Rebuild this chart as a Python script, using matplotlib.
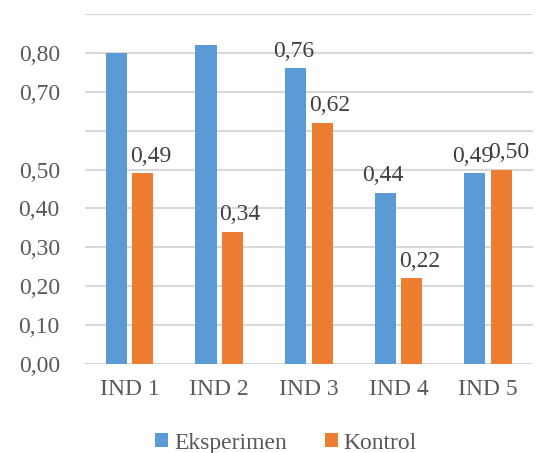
import matplotlib.pyplot as plt
import numpy as np

categories = ['IND 1', 'IND 2', 'IND 3', 'IND 4', 'IND 5']
eksperimen = [0.80, 0.82, 0.76, 0.44, 0.49]
kontrol = [0.49, 0.34, 0.62, 0.22, 0.50]
eksperimen_labels = ['', '', '0,76', '0,44', '0,49']
kontrol_labels = ['0,49', '0,34', '0,62', '0,22', '0,50']
yticks = [0.0, 0.1, 0.2, 0.3, 0.4, 0.5, 0.6, 0.7, 0.8, 0.9]
ytick_labels = ['0,00', '0,10', '0,20', '0,30', '0,40', '0,50', '', '0,70', '0,80', '']

plt.rcParams['font.family'] = ['Liberation Serif', 'DejaVu Serif']

blue = '#5B9BD5'
orange = '#ED7D31'
fs = 17

fig = plt.figure(figsize=(5.4, 4.53), dpi=100)
ax = fig.add_axes([0.157, 0.1965, 0.83, 0.7725])

x = np.arange(len(categories))
w = 0.235
gap = 0.03
b1 = ax.bar(x - w / 2 - gap, eksperimen, w, color=blue, label='Eksperimen', zorder=3)
b2 = ax.bar(x + w / 2 + gap, kontrol, w, color=orange, label='Kontrol', zorder=3)

# data labels (Excel style, slightly nudged)
for rect, lab in zip(b1, eksperimen_labels):
    if lab:
        ax.annotate(lab, (rect.get_x() + rect.get_width() / 2, rect.get_height()),
                    xytext=(-1.5, 8.5), textcoords='offset points', ha='center', va='baseline',
                    fontsize=fs, color='#404040', zorder=4)
for rect, lab in zip(b2, kontrol_labels):
    ax.annotate(lab, (rect.get_x() + rect.get_width() / 2, rect.get_height()),
                xytext=(5.5, 8.5), textcoords='offset points', ha='center', va='baseline',
                fontsize=fs, color='#404040', zorder=4)

ax.set_xlim(-0.5, 4.5)
ax.set_ylim(0, 0.9)
ax.set_yticks(yticks)
ax.set_yticklabels(ytick_labels)
ax.set_xticks(x)
ax.set_xticklabels(categories)
ax.tick_params(axis='both', length=0, labelsize=fs, labelcolor='#595959')
ax.tick_params(axis='y', pad=18)
ax.tick_params(axis='x', pad=11)
ax.grid(axis='y', color='#D9D9D9', linewidth=1.5, zorder=0)
for s in ax.spines.values():
    s.set_visible(False)

fig.legend(loc='center', bbox_to_anchor=(0.53, 0.022), ncol=2, frameon=False,
           prop={'family': 'Liberation Serif', 'size': 17},
           handlelength=0.55, handleheight=0.55, handletextpad=0.25,
           columnspacing=1.6, labelcolor='#595959')

fig.savefig('out.png', dpi=100)
